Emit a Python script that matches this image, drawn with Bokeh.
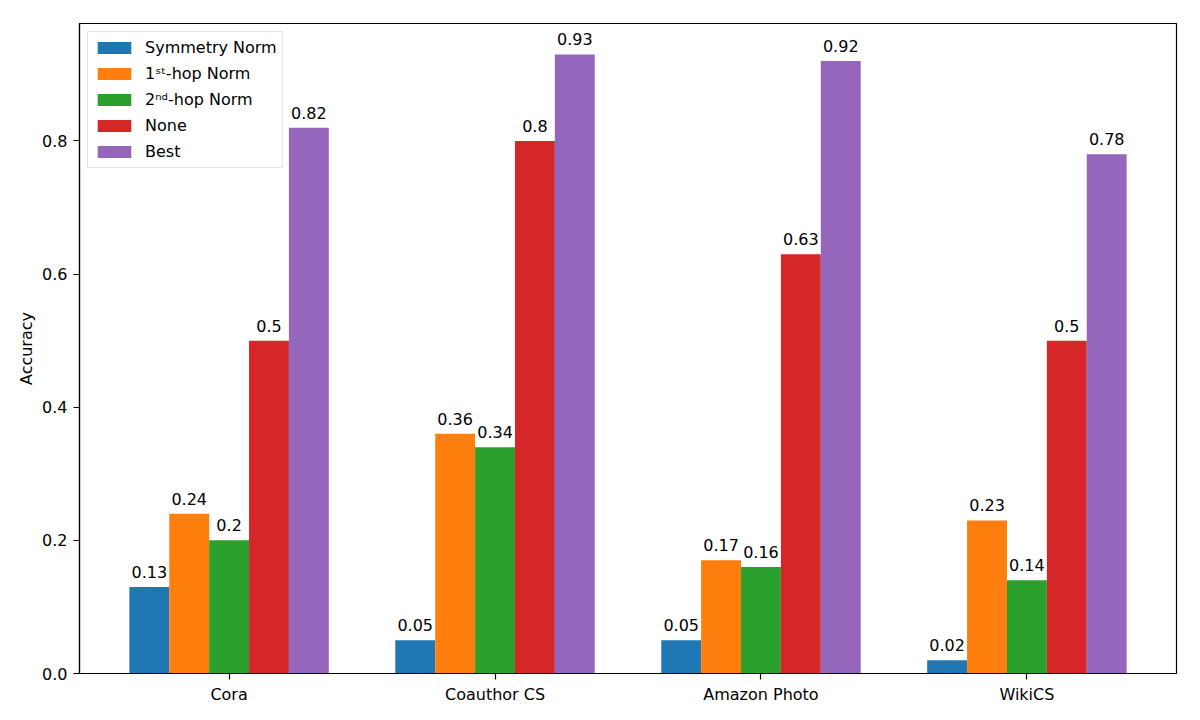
from bokeh.plotting import figure
from bokeh.models import (ColumnDataSource, Range1d, FixedTicker, PrintfTickFormatter,
                          Legend, LegendItem, LabelSet)
from bokeh.core.properties import value
from bokeh.transform import dodge
from bokeh.embed import file_html
from bokeh.resources import INLINE

categories = ["Cora", "Coauthor CS", "Amazon Photo", "WikiCS"]
series_names = ["Symmetry Norm", "1\u02e2\u1d57-hop Norm", "2\u207f\u1d48-hop Norm", "None", "Best"]
symmetry_norm = [0.13, 0.05, 0.05, 0.02]
first_hop_norm = [0.24, 0.36, 0.17, 0.23]
second_hop_norm = [0.20, 0.34, 0.16, 0.14]
none_norm = [0.50, 0.80, 0.63, 0.50]
best = [0.82, 0.93, 0.92, 0.78]
y_ticks = [0.0, 0.2, 0.4, 0.6, 0.8]

series_values = [symmetry_norm, first_hop_norm, second_hop_norm, none_norm, best]
colors = ["#1f77b4", "#ff7f0e", "#2ca02c", "#d62728", "#9467bd"]
bar_w = 0.15
offsets = [-0.3, -0.15, 0.0, 0.15, 0.3]

FONT = "DejaVu Sans"
FS = "16px"

p = figure(width=1192, height=712, output_backend="svg", toolbar_location=None,
           x_range=Range1d(-0.5625, 3.5625), y_range=Range1d(0, 0.9765),
           min_border_left=79, min_border_top=23, min_border_right=16, min_border_bottom=39)
p.background_fill_color = "white"
p.border_fill_color = "white"
p.grid.visible = False
p.outline_line_color = "black"
p.outline_line_width = 1.2
p.outline_line_alpha = 1.0

legend_items = []
for name, vals, col, off in zip(series_names, series_values, colors, offsets):
    src = ColumnDataSource(dict(x=list(range(len(categories))), y=vals,
                                lab=[("%g" % v) for v in vals]))
    r = p.vbar(x=dodge("x", off, range=p.x_range), top="y", width=bar_w, source=src,
               fill_color=col, line_color=None)
    legend_items.append(LegendItem(label=name, renderers=[r]))
    labels = LabelSet(x=dodge("x", off, range=p.x_range), y="y", text="lab", source=src,
                      text_align="center", text_baseline="alphabetic", y_offset=9,
                      text_font=value(FONT), text_font_size=value(FS), text_color="black")
    p.add_layout(labels)

# axes
for ax in (p.xaxis[0], p.yaxis[0]):
    ax.axis_line_color = "black"
    ax.axis_line_width = 1.2
    ax.major_tick_line_color = "black"
    ax.major_tick_line_width = 1.2
    ax.major_tick_out = 6
    ax.major_tick_in = 0
    ax.minor_tick_line_color = None
    ax.major_label_text_font = FONT
    ax.major_label_text_font_size = FS
    ax.major_label_text_color = "black"

p.xaxis.ticker = FixedTicker(ticks=list(range(len(categories))))
p.xaxis.major_label_overrides = {i: c for i, c in enumerate(categories)}
p.xaxis.major_label_standoff = 5

p.yaxis.ticker = FixedTicker(ticks=y_ticks)
p.yaxis.formatter = PrintfTickFormatter(format="%.1f")
p.yaxis.major_label_standoff = 6
p.yaxis.axis_label = "Accuracy"
p.yaxis.axis_label_text_font = FONT
p.yaxis.axis_label_text_font_size = FS
p.yaxis.axis_label_text_font_style = "normal"
p.yaxis.axis_label_text_color = "black"
p.yaxis.axis_label_standoff = 3

legend = Legend(items=legend_items, location="top_left", margin=8,
                padding=5, spacing=5, glyph_width=42, glyph_height=15,
                label_height=21, label_standoff=10,
                label_text_font=FONT, label_text_font_size=FS, label_text_color="black",
                border_line_color="#cccccc", border_line_width=1,
                background_fill_color="white", background_fill_alpha=0.8)
p.add_layout(legend)

open("out.html", "w").write(file_html(p, INLINE))
